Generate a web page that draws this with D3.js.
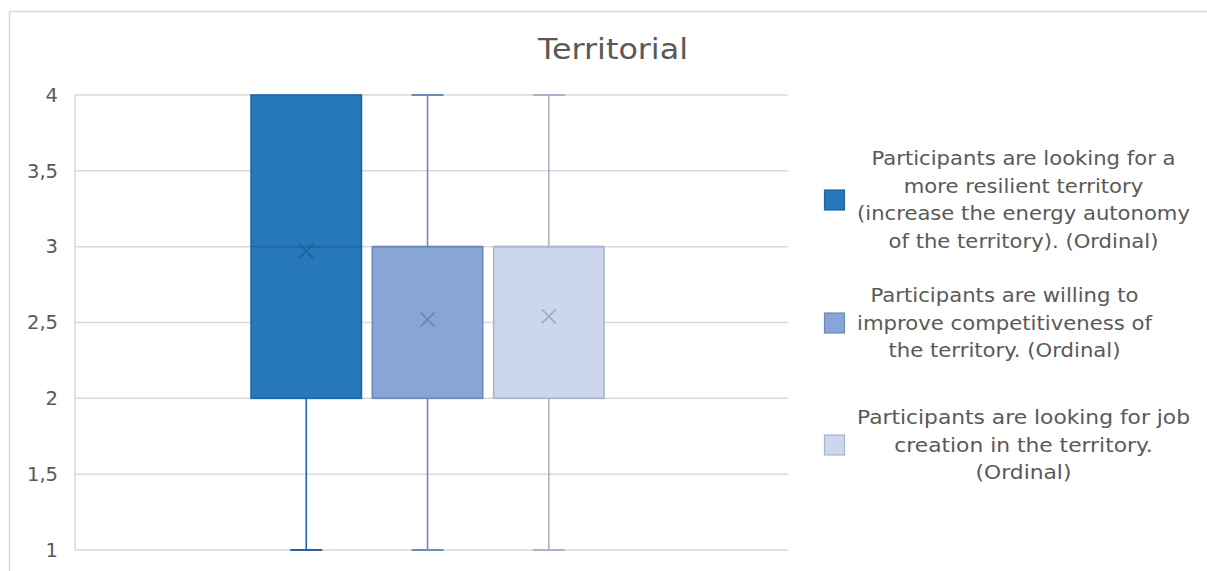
<!DOCTYPE html>
<html>
<head>
<meta charset="utf-8">
<script src="https://cdn.jsdelivr.net/npm/d3@7/dist/d3.min.js"></script>
<style>
  html, body { margin: 0; padding: 0; background: #fff; }
  svg { display: block; font-family: "DejaVu Sans", "Open Sans", sans-serif; }
</style>
</head>
<body>
<svg id="chart" width="1207" height="571"></svg>
<script>
// Box-plot statistics for each survey item (Likert scale 1–4)
const seriesNames = [
  "Participants are looking for a more resilient territory (increase the energy autonomy of the territory). (Ordinal)",
  "Participants are willing to improve competitiveness of the territory. (Ordinal)",
  "Participants are looking for job creation in the territory. (Ordinal)"
];
const legendLines = [
  ["Participants are looking for a", "more resilient territory", "(increase the energy autonomy", "of the territory). (Ordinal)"],
  ["Participants are willing to", "improve competitiveness of", "the territory. (Ordinal)"],
  ["Participants are looking for job", "creation in the territory.", "(Ordinal)"]
];
const minValues    = [1, 1, 1];
const q1Values     = [2, 2, 2];
const medianValues = [3, 3, 3];
const q3Values     = [4, 3, 3];
const maxValues    = [4, 4, 4];
const meanValues   = [2.97, 2.52, 2.54];
const yTicks       = [1, 1.5, 2, 2.5, 3, 3.5, 4];
const category     = ["Territorial"];

const fills   = ["#2777bb", "#87a5d6", "#ccd7ee"];
const strokes = ["#2064a3", "#7088b5", "#aab4cc"];
const textColor = "#595959";
const gridColor = "#d9d9d9";

const svg = d3.select("#chart");

// widen a group of text runs by a common factor so the longest reaches `target`
function widenTo(sel, target) {
  let w = 0;
  sel.each(function() { w = Math.max(w, this.getComputedTextLength()); });
  const k = target / w;
  sel.each(function() {
    const l = this.getComputedTextLength();
    d3.select(this).attr("textLength", l * k).attr("lengthAdjust", "spacingAndGlyphs");
  });
  return k;
}

// chart frame
svg.append("path")
  .attr("d", "M9.5,571 V11.5 H1207")
  .attr("fill", "none").attr("stroke", gridColor).attr("stroke-width", 1.5);

const plot = { left: 75, right: 788, top: 95, bottom: 550 };

const y = d3.scaleLinear().domain([1, 4]).range([plot.bottom, plot.top]);
const xCat = d3.scaleBand().domain(category).range([plot.left, plot.right])
  .paddingInner(0).paddingOuter(0.51).align(0.489);
const xSer = d3.scaleBand().domain(d3.range(seriesNames.length))
  .range([0, xCat.bandwidth()]).paddingInner(0.09).paddingOuter(0);

// gridlines
svg.append("g").selectAll("line").data(yTicks).join("line")
  .attr("x1", plot.left).attr("x2", plot.right)
  .attr("y1", d => y(d)).attr("y2", d => y(d))
  .attr("stroke", gridColor).attr("stroke-width", 1.5);
svg.append("line")
  .attr("x1", plot.left).attr("x2", plot.left)
  .attr("y1", y(4)).attr("y2", y(1))
  .attr("stroke", gridColor).attr("stroke-width", 1.5);

// y axis labels
const fmt = d => String(d).replace(".", ",");
const yAxis = d3.axisLeft(y).tickValues(yTicks).tickFormat(fmt).tickSize(0).tickPadding(17);
const gy = svg.append("g").attr("transform", `translate(${plot.left},0)`).call(yAxis);
gy.select(".domain").remove();
gy.selectAll("text").attr("fill", textColor).style("font-size", "19.5px")
  .style("font-family", "'DejaVu Sans', sans-serif");

// boxes
const boxes = svg.append("g").selectAll("g").data(seriesNames.map((n, i) => i)).join("g")
  .attr("transform", i => `translate(${xCat(category[0]) + xSer(i)},0)`);
const bw = xSer.bandwidth();
const capW = bw * 0.29;

// whiskers
boxes.append("line")
  .attr("x1", bw / 2).attr("x2", bw / 2)
  .attr("y1", i => y(q3Values[i])).attr("y2", i => y(maxValues[i]))
  .attr("stroke", i => strokes[i]).attr("stroke-width", 1.6);
boxes.append("line")
  .attr("x1", bw / 2).attr("x2", bw / 2)
  .attr("y1", i => y(q1Values[i])).attr("y2", i => y(minValues[i]))
  .attr("stroke", i => strokes[i]).attr("stroke-width", 1.6);
boxes.filter(i => maxValues[i] > q3Values[i]).append("line")
  .attr("x1", bw / 2 - capW / 2).attr("x2", bw / 2 + capW / 2)
  .attr("y1", i => y(maxValues[i])).attr("y2", i => y(maxValues[i]))
  .attr("stroke", i => strokes[i]).attr("stroke-width", 2);
boxes.filter(i => minValues[i] < q1Values[i]).append("line")
  .attr("x1", bw / 2 - capW / 2).attr("x2", bw / 2 + capW / 2)
  .attr("y1", i => y(minValues[i])).attr("y2", i => y(minValues[i]))
  .attr("stroke", i => strokes[i]).attr("stroke-width", 2);

// interquartile box
boxes.append("rect")
  .attr("x", 0).attr("width", bw)
  .attr("y", i => y(q3Values[i]))
  .attr("height", i => y(q1Values[i]) - y(q3Values[i]))
  .attr("fill", i => fills[i]).attr("stroke", i => strokes[i]).attr("stroke-width", 1.6);

// median
boxes.append("line")
  .attr("x1", 0).attr("x2", bw)
  .attr("y1", i => y(medianValues[i])).attr("y2", i => y(medianValues[i]))
  .attr("stroke", i => strokes[i]).attr("stroke-width", 1.6);

// mean marker
const m = 7;
boxes.append("path")
  .attr("d", i => {
    const cx = bw / 2, cy = y(meanValues[i]);
    return `M${cx - m},${cy - m}L${cx + m},${cy + m}M${cx - m},${cy + m}L${cx + m},${cy - m}`;
  })
  .attr("fill", "none")
  .attr("stroke", i => d3.color(strokes[i]).darker(0.3))
  .attr("stroke-opacity", 0.85)
  .attr("stroke-width", 1.6);

// title
const title = svg.append("text")
  .attr("x", 613).attr("y", 59)
  .attr("text-anchor", "middle")
  .attr("fill", textColor)
  .style("font-size", "28px")
  .text(category[0]);
widenTo(title, 150);

// legend
const legendTop = [200, 323, 445];
const legendWidth = [333, 295, 333];
const lineH = 27.5;
const legendTextLeft = 857;
const lg = svg.append("g");
legendLines.forEach((lines, i) => {
  const g = lg.append("g");
  g.append("rect")
    .attr("x", 824.5).attr("y", legendTop[i] - 10)
    .attr("width", 20).attr("height", 20)
    .attr("fill", fills[i]).attr("stroke", strokes[i]).attr("stroke-width", 1.2);
  const texts = g.selectAll("text").data(lines).join("text")
    .attr("fill", textColor)
    .style("font-size", "19.5px")
    .attr("text-anchor", "middle")
    .attr("dominant-baseline", "central")
    .attr("y", (d, k) => legendTop[i] + (k - (lines.length - 1) / 2) * lineH)
    .text(d => d);
  widenTo(texts, legendWidth[i]);
  texts.attr("x", legendTextLeft + legendWidth[i] / 2);
});
</script>
</body>
</html>
